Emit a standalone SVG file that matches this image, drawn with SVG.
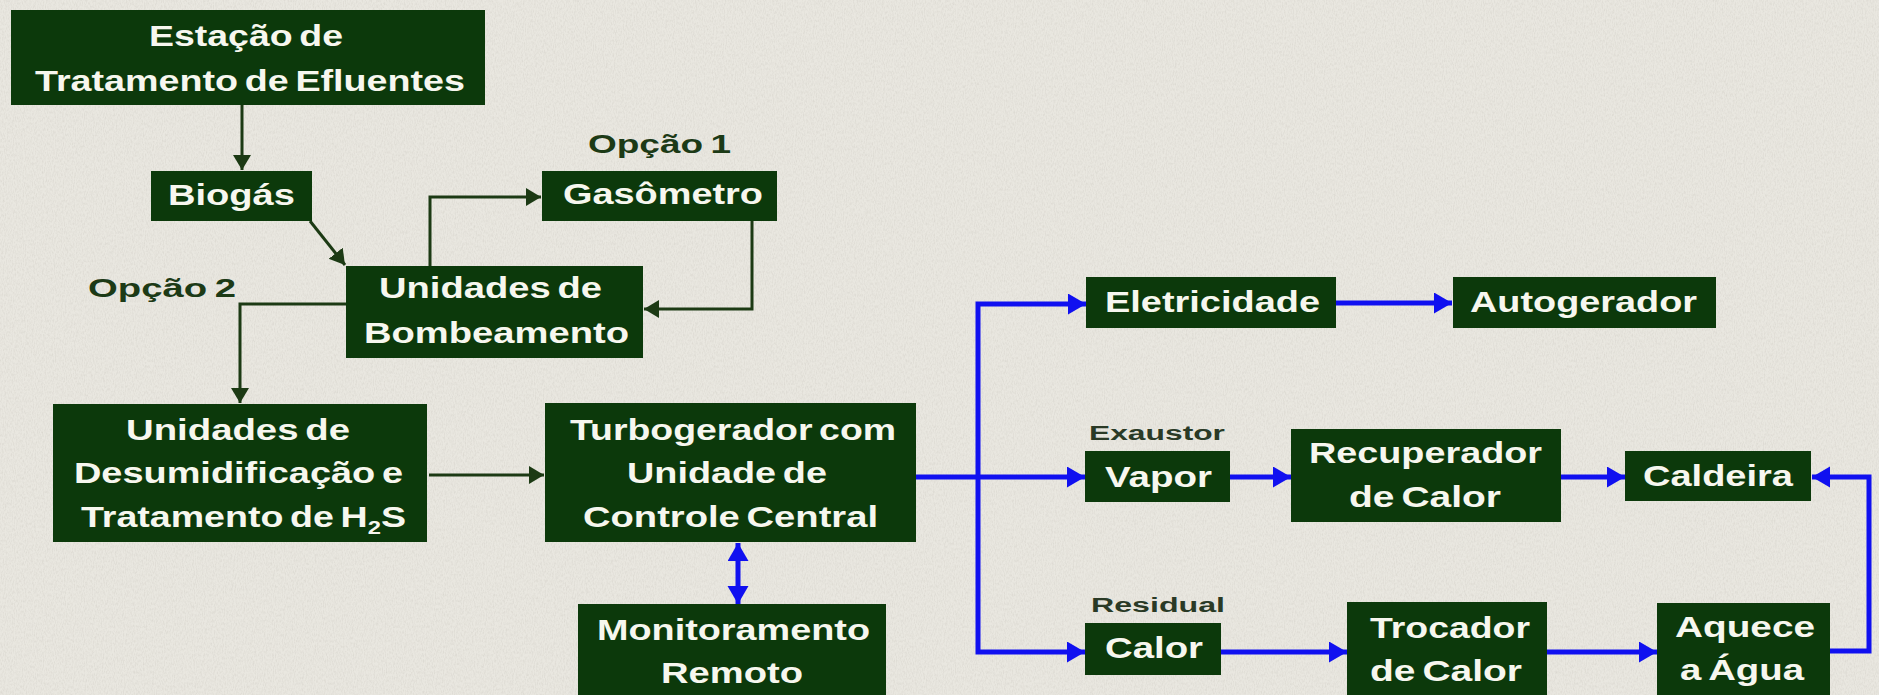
<svg xmlns="http://www.w3.org/2000/svg" width="1879" height="695" viewBox="0 0 1879 695">
<style>
.box{fill:#0c390b}
.t{font-family:"Liberation Sans",Arial,sans-serif;font-weight:bold;font-size:30px;fill:#f7f7ef;text-anchor:middle;word-spacing:-3px}
.lbl{font-family:"Liberation Sans",Arial,sans-serif;font-weight:bold;font-size:25px;fill:#1c3a16;text-anchor:middle;word-spacing:-2px}
.sl{font-family:"Liberation Sans",Arial,sans-serif;font-weight:bold;font-size:20px;fill:#2a3a26;text-anchor:middle}
.g{fill:none;stroke:#1c3a14;stroke-width:3}
.b{fill:none;stroke:#1010f0;stroke-width:5}
</style>
<defs>
<marker id="ag" markerUnits="userSpaceOnUse" markerWidth="16" markerHeight="20" refX="15" refY="9" orient="auto">
<path d="M0,0 L15,9 L0,18 Z" fill="#1c3a14"/>
</marker>
<marker id="ab" markerUnits="userSpaceOnUse" markerWidth="19" markerHeight="22" refX="18" refY="10.5" orient="auto-start-reverse">
<path d="M0,0 L18,10.5 L0,21 Z" fill="#1010f0"/>
</marker>
<filter id="paper" x="0" y="0" width="100%" height="100%">
<feTurbulence type="fractalNoise" baseFrequency="0.9 0.35" numOctaves="3" seed="4" result="n"/>
<feColorMatrix in="n" type="matrix" values="0 0 0 0 0.55  0 0 0 0 0.53  0 0 0 0 0.48  0 0 0 -1.3 0.8"/>
</filter>
</defs>
<rect width="1879" height="695" fill="#e9e7e0"/>
<rect width="1879" height="695" filter="url(#paper)" opacity="0.5"/>

<g id="connectors">
<path class="g" d="M242,105 V170" marker-end="url(#ag)"/>
<path class="g" d="M310,221 L345,265" marker-end="url(#ag)"/>
<path class="g" d="M430,266 V197 H541" marker-end="url(#ag)"/>
<path class="g" d="M752,221 V309 H644" marker-end="url(#ag)"/>
<path class="g" d="M346,304 H240 V403" marker-end="url(#ag)"/>
<path class="g" d="M429,475 H544" marker-end="url(#ag)"/>
<path class="b" d="M916,477 H1085" marker-end="url(#ab)"/>
<path class="b" d="M978,477 V304 H1086" marker-end="url(#ab)"/>
<path class="b" d="M978,477 V652 H1085" marker-end="url(#ab)"/>
<path class="b" d="M1336,303 H1452" marker-end="url(#ab)"/>
<path class="b" d="M1230,477 H1291" marker-end="url(#ab)"/>
<path class="b" d="M1561,477 H1625" marker-end="url(#ab)"/>
<path class="b" d="M1221,652 H1347" marker-end="url(#ab)"/>
<path class="b" d="M1547,652 H1657" marker-end="url(#ab)"/>
<path class="b" d="M1830,651 H1869 V477 H1812" marker-end="url(#ab)"/>
<path class="b" d="M738,543 V604" marker-start="url(#ab)" marker-end="url(#ab)"/>
</g>

<g id="estacao"><rect class="box" x="11" y="10" width="474" height="95"/>
<text class="t" x="246" y="46" textLength="194" lengthAdjust="spacingAndGlyphs">Estação de</text>
<text class="t" x="250" y="91" textLength="430" lengthAdjust="spacingAndGlyphs">Tratamento de Efluentes</text></g>

<g id="biogas"><rect class="box" x="151" y="171" width="161" height="50"/>
<text class="t" x="231.5" y="205" textLength="127" lengthAdjust="spacingAndGlyphs">Biogás</text></g>

<g id="opcao1"><text class="lbl" x="659.5" y="153" textLength="143" lengthAdjust="spacingAndGlyphs">Opção 1</text></g>

<g id="gasometro"><rect class="box" x="542" y="171" width="235" height="50"/>
<text class="t" x="663" y="204" textLength="200" lengthAdjust="spacingAndGlyphs">Gasômetro</text></g>

<g id="opcao2"><text class="lbl" x="162" y="297" textLength="148" lengthAdjust="spacingAndGlyphs">Opção 2</text></g>

<g id="bombeamento"><rect class="box" x="346" y="266" width="297" height="92"/>
<text class="t" x="490.5" y="298" textLength="223" lengthAdjust="spacingAndGlyphs">Unidades de</text>
<text class="t" x="496.5" y="343" textLength="265" lengthAdjust="spacingAndGlyphs">Bombeamento</text></g>

<g id="desumidificacao"><rect class="box" x="53" y="404" width="374" height="138"/>
<text class="t" x="238" y="440" textLength="224" lengthAdjust="spacingAndGlyphs">Unidades de</text>
<text class="t" x="238.5" y="483" textLength="329" lengthAdjust="spacingAndGlyphs">Desumidificação e</text>
<text class="t" x="243.5" y="527" textLength="325" lengthAdjust="spacingAndGlyphs">Tratamento de H<tspan font-size="19" dy="7">2</tspan><tspan dy="-7">S</tspan></text></g>

<g id="turbogerador"><rect class="box" x="545" y="403" width="371" height="139"/>
<text class="t" x="733" y="440" textLength="326" lengthAdjust="spacingAndGlyphs">Turbogerador com</text>
<text class="t" x="727" y="483" textLength="200" lengthAdjust="spacingAndGlyphs">Unidade de</text>
<text class="t" x="730.5" y="527" textLength="295" lengthAdjust="spacingAndGlyphs">Controle Central</text></g>

<g id="monitoramento"><rect class="box" x="578" y="604" width="308" height="96"/>
<text class="t" x="733.5" y="640" textLength="273" lengthAdjust="spacingAndGlyphs">Monitoramento</text>
<text class="t" x="732" y="683" textLength="142" lengthAdjust="spacingAndGlyphs">Remoto</text></g>

<g id="eletricidade"><rect class="box" x="1086" y="277" width="250" height="51"/>
<text class="t" x="1212.5" y="312" textLength="215" lengthAdjust="spacingAndGlyphs">Eletricidade</text></g>

<g id="autogerador"><rect class="box" x="1453" y="277" width="263" height="51"/>
<text class="t" x="1583.5" y="312" textLength="227" lengthAdjust="spacingAndGlyphs">Autogerador</text></g>

<g id="exaustor"><text class="sl" x="1157" y="440" textLength="136" lengthAdjust="spacingAndGlyphs">Exaustor</text></g>

<g id="vapor"><rect class="box" x="1085" y="451" width="145" height="51"/>
<text class="t" x="1158.5" y="487" textLength="107" lengthAdjust="spacingAndGlyphs">Vapor</text></g>

<g id="recuperador"><rect class="box" x="1291" y="429" width="270" height="93"/>
<text class="t" x="1425.5" y="463" textLength="233" lengthAdjust="spacingAndGlyphs">Recuperador</text>
<text class="t" x="1425" y="507" textLength="152" lengthAdjust="spacingAndGlyphs">de Calor</text></g>

<g id="caldeira"><rect class="box" x="1625" y="451" width="186" height="50"/>
<text class="t" x="1718" y="486" textLength="150" lengthAdjust="spacingAndGlyphs">Caldeira</text></g>

<g id="residual"><text class="sl" x="1158" y="612" textLength="134" lengthAdjust="spacingAndGlyphs">Residual</text></g>

<g id="calor"><rect class="box" x="1085" y="623" width="136" height="52"/>
<text class="t" x="1154" y="658" textLength="98" lengthAdjust="spacingAndGlyphs">Calor</text></g>

<g id="trocador"><rect class="box" x="1347" y="602" width="200" height="98"/>
<text class="t" x="1450" y="638" textLength="160" lengthAdjust="spacingAndGlyphs">Trocador</text>
<text class="t" x="1446" y="681" textLength="152" lengthAdjust="spacingAndGlyphs">de Calor</text></g>

<g id="aquece"><rect class="box" x="1657" y="603" width="173" height="97"/>
<text class="t" x="1745" y="637" textLength="140" lengthAdjust="spacingAndGlyphs">Aquece</text>
<text class="t" x="1742" y="680" textLength="124" lengthAdjust="spacingAndGlyphs">a Água</text></g>
</svg>
